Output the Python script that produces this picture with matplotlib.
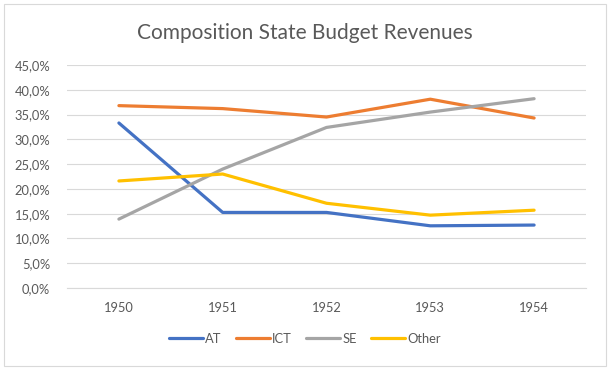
import matplotlib
matplotlib.use("Agg")
import matplotlib.pyplot as plt
from matplotlib.ticker import FuncFormatter
from matplotlib.patches import Rectangle

years = ["1950", "1951", "1952", "1953", "1954"]
at = [33.3, 15.25, 15.25, 12.55, 12.7]
ict = [36.8, 36.2, 34.5, 38.1, 34.3]
se = [13.9, 24.0, 32.4, 35.5, 38.2]
other = [21.6, 23.0, 17.1, 14.7, 15.7]
series_names = ["AT", "ICT", "SE", "Other"]
colors = ["#4472C4", "#ED7D31", "#A5A5A5", "#FFC000"]

plt.rcParams['font.family'] = ['Lato', 'DejaVu Sans']
fig = plt.figure(figsize=(6.1, 3.7), dpi=100)
fig.patch.set_facecolor("white")
fig.patches.append(Rectangle((4/610, 4/370), 602/610, 362/370, transform=fig.transFigure,
                             fill=False, edgecolor="#D9D9D9", linewidth=0.8))
ax = fig.add_axes([67/610, 1-288/370, (586-67)/610, (288-65)/370])
x = list(range(len(years)))
for vals, name, c in zip([at, ict, se, other], series_names, colors):
    ax.plot(x, vals, color=c, linewidth=2.3, label=name, solid_capstyle="round")
ax.set_xlim(-0.5, 4.5)
ax.set_ylim(0, 45)
ax.set_yticks([i * 5 for i in range(10)])
ax.yaxis.set_major_formatter(FuncFormatter(lambda v, p: f"{v:.1f}%".replace(".", ",")))
ax.set_xticks(x)
ax.set_xticklabels(years)
ax.grid(axis="y", color="#D9D9D9", linewidth=0.8)
ax.set_axisbelow(True)
for s in ["top", "right", "left"]:
    ax.spines[s].set_visible(False)
ax.spines["bottom"].set_color("#D9D9D9")
ax.tick_params(axis="both", length=0, colors="#595959", labelsize=9.3)
ax.tick_params(axis="y", pad=12)
ax.tick_params(axis="x", pad=10)
fig.text(0.5, 1 - 33/370, "Composition State Budget Revenues", ha="center", va="center",
         fontsize=15, color="#595959")
fig.legend(loc="center", bbox_to_anchor=(0.5, 1 - 339/370), ncol=4, frameon=False,
           fontsize=9.3, handlelength=2.6, handletextpad=0.2, columnspacing=1.1,
           labelcolor="#595959")
fig.savefig("out.png", dpi=100)
